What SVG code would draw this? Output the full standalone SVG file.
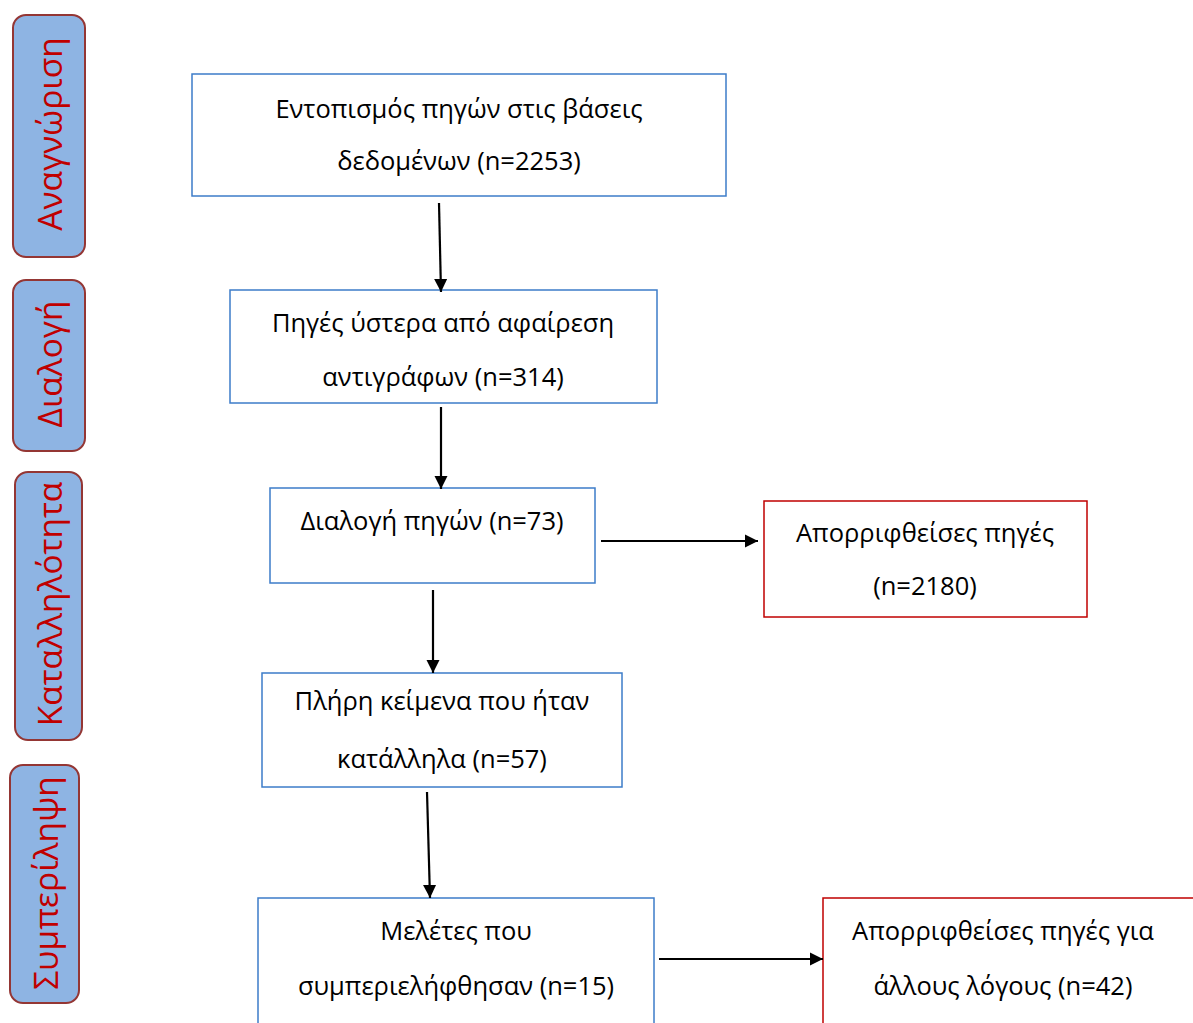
<svg xmlns="http://www.w3.org/2000/svg" width="1193" height="1023" viewBox="0 0 1193 1023">
<style>
.bg{fill:#ffffff}
.side rect{fill:#8EB4E3;stroke:#943634;stroke-width:2}
.side text{fill:#C00000;font-family:"Open Sans","Liberation Sans",sans-serif;font-size:33.5px;text-anchor:middle;dominant-baseline:central}
.box rect{fill:#ffffff;stroke:#3D7CC9;stroke-width:1.5}
.rbox rect{fill:#ffffff;stroke:#C00000;stroke-width:1.5}
.box text,.rbox text{fill:#000000;font-family:"Open Sans","Liberation Sans",sans-serif;font-size:25.5px;text-anchor:middle;dominant-baseline:central}
.conn line{stroke:#000;stroke-width:2.2;marker-end:url(#ah)}
</style>
<defs>
<marker id="ah" viewBox="0 0 10 10" refX="10" refY="5" markerWidth="6" markerHeight="6" markerUnits="strokeWidth" orient="auto">
<path d="M0,0 L10,5 L0,10 z" fill="#000"/>
</marker>
</defs>
<rect class="bg" x="0" y="0" width="1193" height="1023"/>
<g id="side1" class="side"><rect x="13" y="15" width="72" height="242" rx="13"/><text transform="translate(49,134) rotate(-90)">Αναγνώριση</text></g>
<g id="side2" class="side"><rect x="13" y="280" width="72" height="171" rx="13"/><text transform="translate(49,364) rotate(-90)">Διαλογή</text></g>
<g id="side3" class="side"><rect x="15" y="472" width="67" height="268" rx="13"/><text transform="translate(49,604) rotate(-90)">Καταλληλότητα</text></g>
<g id="side4" class="side"><rect x="10" y="765" width="69" height="238" rx="13"/><text transform="translate(45,883) rotate(-90)">Συμπερίληψη</text></g>

<g id="n1" class="box"><rect x="192" y="74" width="534" height="122"/><text x="459" y="108">Εντοπισμός πηγών στις βάσεις</text><text x="459" y="160">δεδομένων (n=2253)</text></g>
<g id="n2" class="box"><rect x="230" y="290" width="427" height="113"/><text x="443" y="322">Πηγές ύστερα από αφαίρεση</text><text x="443" y="376">αντιγράφων (n=314)</text></g>
<g id="n3" class="box"><rect x="270" y="488" width="325" height="95"/><text x="432" y="520">Διαλογή πηγών (n=73)</text></g>
<g id="n4" class="rbox"><rect x="764" y="501" width="323" height="116"/><text x="925" y="532">Απορριφθείσες πηγές</text><text x="925" y="585">(n=2180)</text></g>
<g id="n5" class="box"><rect x="262" y="673" width="360" height="114"/><text x="442" y="700">Πλήρη κείμενα που ήταν</text><text x="442" y="758">κατάλληλα (n=57)</text></g>
<g id="n6" class="box"><rect x="258" y="898" width="396" height="135"/><text x="456" y="930">Μελέτες που</text><text x="456" y="985">συμπεριελήφθησαν (n=15)</text></g>
<g id="n7" class="rbox"><rect x="823" y="898" width="380" height="135"/><text x="1003" y="930">Απορριφθείσες πηγές για</text><text x="1003" y="985">άλλους λόγους (n=42)</text></g>

<g id="connectors" class="conn">
<line x1="439" y1="203" x2="441" y2="292"/>
<line x1="441" y1="407" x2="441" y2="489"/>
<line x1="601" y1="541" x2="758" y2="541"/>
<line x1="433" y1="590" x2="433" y2="673"/>
<line x1="427" y1="792" x2="430" y2="898"/>
<line x1="659" y1="959" x2="823" y2="959"/>
</g>
</svg>
